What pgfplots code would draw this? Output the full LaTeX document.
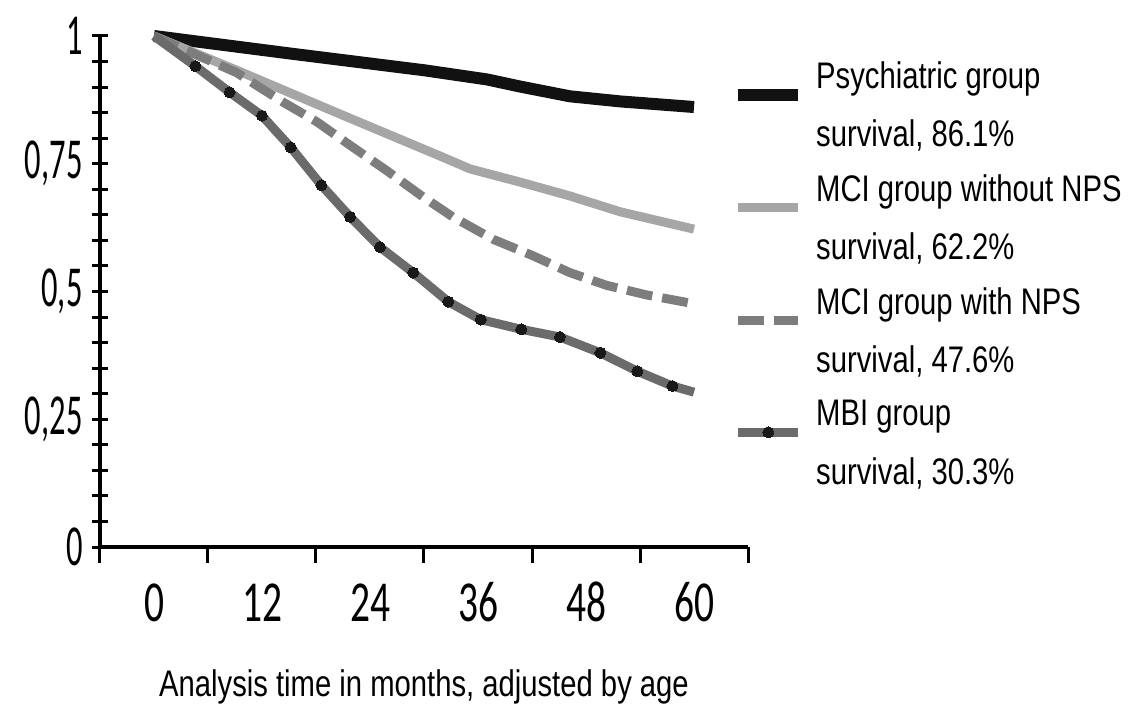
\documentclass[border=0pt]{standalone}
\usepackage{pgfplots}
\pgfplotsset{compat=1.18}
\usepackage{fontspec}
\setmainfont[FakeStretch=0.79]{Liberation Sans}
\newfontfamily\tickfont[FakeStretch=0.68]{Carlito}
\newfontfamily\ytickfont[FakeStretch=0.56]{Carlito}

\definecolor{psych}{HTML}{111111}
\definecolor{mcino}{HTML}{A6A6A6}
\definecolor{mciyes}{HTML}{7D7D7D}
\definecolor{mbi}{HTML}{6B6B6B}

% Survival estimates (time in months, proportion surviving)
\pgfplotstableread{
t    s
0    1.000
15   0.966
30   0.933
37   0.915
40.7 0.901
46.2 0.882
51.8 0.872
60   0.861
}\psychiatric

\pgfplotstableread{
t    s
0    1.000
9.6  0.930
20.7 0.847
31.8 0.765
35.1 0.740
40.7 0.714
46.2 0.687
51.8 0.656
60   0.622
}\mciwithout

\pgfplotstableread{
t    s
0    1.000
9.2  0.928
14.3 0.871
18.1 0.832
21.8 0.786
25.9 0.736
29.9 0.685
33.2 0.646
37.7 0.602
42.1 0.570
46.2 0.537
50.3 0.512
54.8 0.493
60   0.476
}\mciwith

\pgfplotstableread{
t    s
0    1.000
4.6  0.941
8.4  0.890
12.0 0.844
15.2 0.782
18.6 0.708
21.8 0.646
25.1 0.587
28.8 0.537
32.7 0.480
36.3 0.445
40.8 0.426
45.1 0.411
49.6 0.380
53.7 0.344
57.6 0.315
60   0.303
}\mbigroup

\begin{document}
\begin{tikzpicture}
\path[use as bounding box] (-100bp,-159bp) rectangle (1032bp,547bp);
\begin{axis}[
  scale only axis,
  width=648bp, height=511bp,
  at={(0,0)}, anchor=south west,
  xmin=-6, xmax=66, ymin=0, ymax=1,
  axis x line*=bottom, axis y line*=left,
  axis line style={line width=3.5bp, black},
  xtick={-6,6,...,66},
  x tick label as interval,
  xticklabels={0,12,24,36,48,60},
  ytick={0,0.25,0.5,0.75,1},
  yticklabels={0,{0,25},{0,5},{0,75},1},
  minor y tick num=4,
  tick align=outside,
  major tick length=16bp, minor tick length=16bp,
  tick style={line width=3bp, black},
  y tick style={xshift=8bp},
  xticklabel style={font=\tickfont\fontsize{58bp}{58bp}\selectfont, anchor=base, yshift=-58bp},
  yticklabel style={font=\ytickfont\fontsize{58bp}{58bp}\selectfont, anchor=east, xshift=2bp},
  xlabel={Analysis time in months, adjusted by age},
  xlabel style={font=\fontsize{37bp}{40bp}\selectfont, at={(axis description cs:0.5,0)}, anchor=base, yshift=-149bp},
  clip=false,
  legend image code/.code={\draw[mark repeat=2,mark phase=2,#1,mark indices={2}] plot coordinates {(0bp,52bp) (30bp,52bp) (60bp,52bp)};},
  legend style={draw=none, fill=none, inner sep=0pt, outer sep=0pt,
    at={(0.988,0.950)}, anchor=north west, xshift=-8bp,
    font=\fontsize{37bp}{58.6bp}\selectfont,
    nodes={inner sep=0pt, align=left, anchor=base west},
    column sep=12bp, row sep=26bp},
  legend cell align=left,
  line join=round,
]
\addplot[psych, line width=12bp] table[x=t, y=s] {\psychiatric};
\addlegendentry{Psychiatric group\\survival, 86.1\%}
\addplot[mcino, line width=9bp] table[x=t, y=s] {\mciwithout};
\addlegendentry{MCI group without NPS\\survival, 62.2\%}
\addplot[mciyes, line width=9bp, dash pattern=on 26bp off 10bp] table[x=t, y=s] {\mciwith};
\addlegendentry{MCI group with NPS\\survival, 47.6\%}
\addplot[mbi, line width=9bp, mark=*, mark size=5.5bp, mark indices={2,...,16},
  mark options={solid, fill=black!90, draw=black!90, line width=0pt}] table[x=t, y=s] {\mbigroup};
\addlegendentry{MBI group\\survival, 30.3\%}
\end{axis}
\end{tikzpicture}
\end{document}
